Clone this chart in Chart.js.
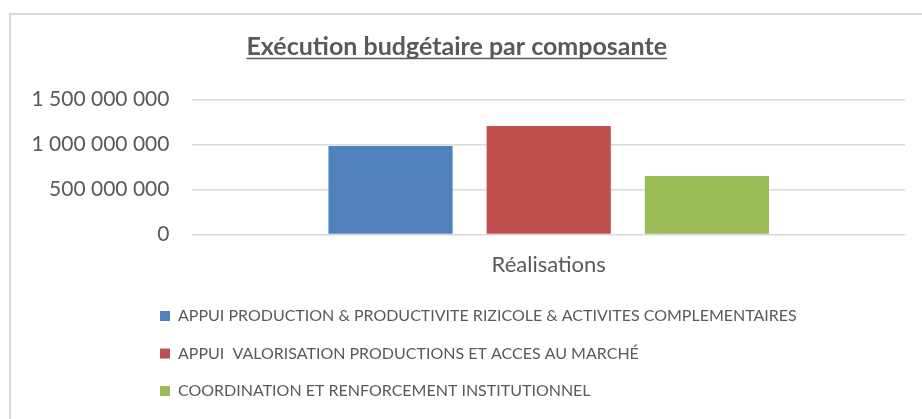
<!DOCTYPE html>
<html lang="fr">
<head>
    <meta charset="UTF-8">
    <title>Exécution budgétaire par composante</title>
    <script src="https://cdn.jsdelivr.net/npm/chart.js"></script>
    <style>
        html, body { margin: 0; padding: 0; background: #fff; }
        #frame {
            position: absolute;
            left: 9px;
            top: 13px;
            width: 960px;
            height: 460px;
            border: 2px solid #d9d9d9;
        }
        #wrap {
            position: absolute;
            left: 0;
            top: 0;
            width: 922px;
            height: 419px;
        }
    </style>
</head>
<body>
    <div id="frame"></div>
    <div id="wrap"><canvas id="budgetChart"></canvas></div>

    <script>
        // Données
        const categories = ['Réalisations'];
        const composantes = [
            'APPUI PRODUCTION & PRODUCTIVITE RIZICOLE & ACTIVITES COMPLEMENTAIRES',
            'APPUI  VALORISATION PRODUCTIONS ET ACCES AU MARCHÉ',
            'COORDINATION ET RENFORCEMENT INSTITUTIONNEL'
        ];
        const realisations = [983000000, 1205000000, 650000000];
        const colors = ['#4F81BD', '#C0504D', '#9BBB59'];
        const yTicks = [0, 500000000, 1000000000, 1500000000];

        const textColor = '#595959';
        const fontFamily = 'Lato, "Open Sans", sans-serif';

        // format "1 500 000 000"
        function formatNumber(v) {
            return String(v).replace(/\B(?=(\d{3})+(?!\d))/g, ' ');
        }

        // Soulignement du titre (Chart.js ne le fait pas)
        const underlineTitle = {
            id: 'underlineTitle',
            afterDraw(chart) {
                const t = chart.titleBlock;
                if (!t) return;
                const ctx = chart.ctx;
                const f = Chart.helpers.toFont(chart.options.plugins.title.font);
                ctx.save();
                ctx.font = f.string;
                const w = ctx.measureText(chart.options.plugins.title.text).width;
                const cx = (t.left + t.right) / 2;
                const y = t.top + chart.options.plugins.title.padding.top + f.lineHeight / 2 + f.size * 0.46;
                ctx.strokeStyle = textColor;
                ctx.lineWidth = 1.5;
                ctx.beginPath();
                ctx.moveTo(cx - w / 2, y);
                ctx.lineTo(cx + w / 2, y);
                ctx.stroke();
                ctx.restore();
            }
        };

        // Légende en bloc, lignes alignées à gauche
        const legendOffset = {
            id: 'legendOffset',
            beforeDraw(chart) {
                const lg = chart.legend;
                if (lg && lg._baseLeft === undefined) {
                    lg._baseLeft = lg.left;
                }
                if (lg) lg.left = lg._baseLeft + 130;
            }
        };

        new Chart(document.getElementById('budgetChart'), {
            type: 'bar',
            data: {
                labels: categories,
                datasets: composantes.map((name, i) => ({
                    label: name,
                    data: [realisations[i]],
                    backgroundColor: colors[i],
                    borderWidth: 0,
                    categoryPercentage: 0.666,
                    barPercentage: 0.785
                }))
            },
            options: {
                responsive: true,
                maintainAspectRatio: false,
                animation: false,
                layout: {
                    padding: { top: 20, left: 8.5, right: 17, bottom: 10 }
                },
                plugins: {
                    title: {
                        display: true,
                        text: 'Exécution budgétaire par composante',
                        color: textColor,
                        font: { family: fontFamily, size: 25, weight: 'bold' },
                        padding: { top: 12, bottom: 37.5 }
                    },
                    legend: {
                        position: 'bottom',
                        align: 'start',
                        labels: {
                            color: textColor,
                            font: { family: fontFamily, size: 16 },
                            boxWidth: 10,
                            boxHeight: 10,
                            padding: 21.5
                        }
                    },
                    tooltip: { enabled: false }
                },
                scales: {
                    x: {
                        grid: { display: false, drawTicks: false },
                        border: { display: false },
                        afterFit(scale) {
                            scale.height = 52;
                        },
                        ticks: {
                            color: textColor,
                            font: { family: fontFamily, size: 22, lineHeight: 1.07 },
                            padding: 18.5
                        }
                    },
                    y: {
                        min: 0,
                        max: 1500000000,
                        afterBuildTicks(axis) {
                            axis.ticks = yTicks.map(v => ({ value: v }));
                        },
                        grid: { color: '#d9d9d9', lineWidth: 1.5, drawTicks: false },
                        border: { display: false },
                        ticks: {
                            color: textColor,
                            font: { family: fontFamily, size: 21 },
                            padding: 23,
                            callback: v => formatNumber(v)
                        }
                    }
                }
            },
            plugins: [underlineTitle, legendOffset]
        });
    </script>
</body>
</html>
